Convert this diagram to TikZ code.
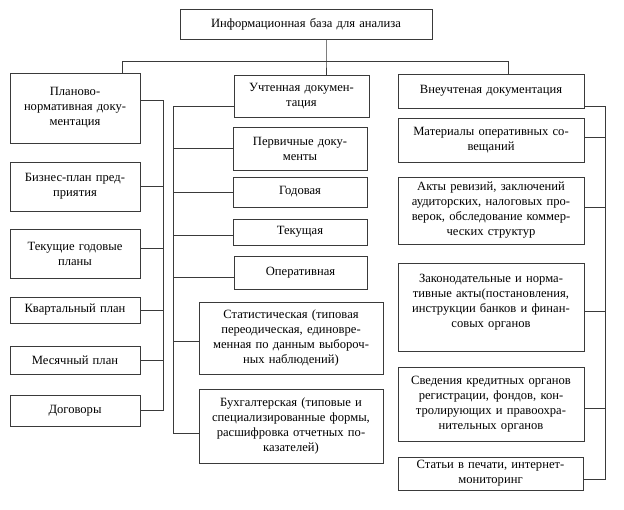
\documentclass[tikz,border=0pt]{standalone}
\usepackage{fontspec}
\setmainfont{Liberation Serif}
\definecolor{linec}{HTML}{3A3A3A}
\begin{document}
\begin{tikzpicture}[x=1pt,y=-1pt,
  box/.style={draw=linec, line width=0.8pt, align=center, inner sep=0pt, fill=white,
    font=\fontsize{12.6}{15}\selectfont},
  conn/.style={draw=linec, line width=0.8pt}]
\useasboundingbox[fill=white] (0,0) rectangle (624,510);

% top
\node[box, minimum width=252pt, minimum height=30pt, text width=246pt] (top) at (306,24) {Информационная база для анализа};

% left column
\node[box, minimum width=130pt, minimum height=70pt, text width=126pt] (pn) at (75,108) {Планово-\\нормативная доку-\\ментация};
\node[box, minimum width=130pt, minimum height=49pt, text width=126pt] (bp) at (75,186.5) {Бизнес-план пред-\\приятия};
\node[box, minimum width=130pt, minimum height=49pt, text width=126pt] (tg) at (75,253.5) {Текущие годовые\\планы};
\node[box, minimum width=130pt, minimum height=26pt, text width=126pt] (kv) at (75,310) {Квартальный план};
\node[box, minimum width=130pt, minimum height=28pt, text width=126pt] (ms) at (75,360) {Месячный план};
\node[box, minimum width=130pt, minimum height=31pt, text width=126pt] (dg) at (75,410.5) {Договоры};

% middle column
\node[box, minimum width=135pt, minimum height=42pt, text width=131pt] (ud) at (301.5,96) {Учтенная докумен-\\тация};
\node[box, minimum width=134pt, minimum height=43pt, text width=130pt] (pd) at (300,148.5) {Первичные доку-\\менты};
\node[box, minimum width=134pt, minimum height=30pt, text width=130pt] (gd) at (300,192) {Годовая};
\node[box, minimum width=134pt, minimum height=26pt, text width=130pt] (tk) at (300,232) {Текущая};
\node[box, minimum width=133pt, minimum height=33pt, text width=129pt] (op) at (300.5,272.5) {Оперативная};
\node[box, minimum width=184pt, minimum height=72pt, text width=180pt] (st) at (291,338) {Статистическая (типовая\\переодическая, единовре-\\менная по данным выбороч-\\ных наблюдений)};
\node[box, minimum width=184pt, minimum height=74pt, text width=180pt] (bh) at (291,426) {Бухгалтерская (типовые и\\специализированные формы,\\расшифровка отчетных по-\\казателей)};

% right column
\node[box, minimum width=186pt, minimum height=34pt, text width=182pt] (vd) at (491,91) {Внеучтеная документация};
\node[box, minimum width=186pt, minimum height=44pt, text width=182pt] (mo) at (491,140) {Материалы оперативных со-\\вещаний};
\node[box, minimum width=186pt, minimum height=67pt, text width=182pt] (ar) at (491,210.5) {Акты ревизий, заключений\\аудиторских, налоговых про-\\верок, обследование коммер-\\ческих структур};
\node[box, minimum width=186pt, minimum height=88pt, text width=182pt] (zk) at (491,307) {Законодательные и норма-\\тивные акты(постановления,\\инструкции банков и финан-\\совых органов\\[-2pt]\mbox{}};
\node[box, minimum width=186pt, minimum height=74pt, text width=182pt] (sv) at (491,404) {Сведения кредитных органов\\регистрации, фондов, кон-\\тролирующих и правоохра-\\нительных органов};
\node[box, minimum width=185pt, minimum height=33pt, text width=181pt] (sp) at (490.5,473.5) {Статьи в печати, интернет-\\мониторинг};

% junction coordinates
\coordinate (tj) at (326,61);
\coordinate (tl) at (122,61);
\coordinate (tr) at (508,61);
\coordinate (lv) at (163,100);
\coordinate (mv) at (173,106);
\coordinate (rv) at (605,106);

% top connectors
\draw[conn] (tj |- top.south) -- (tj) -- (tj |- ud.north);
\draw[conn] (tl |- pn.north) -- (tl) -- (tr) -- (tr |- vd.north);

% left connectors
\draw[conn] ([yshift=8pt]pn.east) -- (lv) -- (lv |- dg.east) -- (dg.east);
\foreach \n in {bp,kv,ms} \draw[conn] (\n.east) -- (lv |- \n.east);
\draw[conn] ([yshift=5pt]tg.east) -- ([yshift=5pt]lv |- tg.east);

% middle connectors
\draw[conn] ([yshift=-10pt]ud.west) -- (mv) -- ([yshift=-7pt]mv |- bh.west) -- ([yshift=-7pt]bh.west);
\foreach \n in {pd,gd} \draw[conn] (\n.west) -- (mv |- \n.west);
\draw[conn] ([yshift=-3pt]tk.west) -- ([yshift=-3pt]mv |- tk.west);
\draw[conn] ([yshift=-4.5pt]op.west) -- ([yshift=-4.5pt]mv |- op.west);
\draw[conn] ([yshift=-3pt]st.west) -- ([yshift=-3pt]mv |- st.west);

% right connectors
\draw[conn] ([yshift=-15pt]vd.east) -- (rv) -- ([yshift=-5.5pt]rv |- sp.east) -- ([yshift=-5.5pt]sp.east);
\draw[conn] ([yshift=3pt]mo.east) -- ([yshift=3pt]rv |- mo.east);
\draw[conn] ([yshift=3.5pt]ar.east) -- ([yshift=3.5pt]rv |- ar.east);
\draw[conn] ([yshift=-4pt]zk.east) -- ([yshift=-4pt]rv |- zk.east);
\draw[conn] ([yshift=-4pt]sv.east) -- ([yshift=-4pt]rv |- sv.east);
\end{tikzpicture}
\end{document}
